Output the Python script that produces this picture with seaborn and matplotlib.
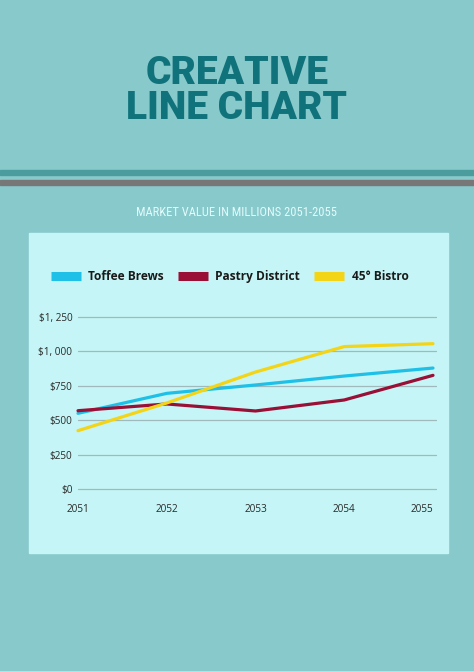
import pandas as pd
import numpy as np
import matplotlib.pyplot as plt
import seaborn as sns
from matplotlib.patches import Rectangle
from matplotlib.lines import Line2D

# Chart data
years = [2051, 2052, 2053, 2054, 2055]
toffee_brews = [550, 695, 756, 821, 879]
pastry_district = [569, 618, 567, 647, 826]
bistro_45 = [424, 625, 850, 1035, 1056]
series_names = ['Toffee Brews', 'Pastry District', '45° Bistro']
y_ticks = [0, 250, 500, 750, 1000, 1250]
y_tick_labels = ['$0', '$250', '$500', '$750', '$1, 000', '$1, 250']

data = pd.DataFrame({
    'Year': years * 3,
    'Value': toffee_brews + pastry_district + bistro_45,
    'Company': [series_names[0]] * 5 + [series_names[1]] * 5 + [series_names[2]] * 5,
})

colors = ['#1ec0e8', '#9a0f36', '#f4d417']
bg = '#88c9cc'
panel = '#c5f5f6'

sns.set_style('white')
plt.rcParams['font.family'] = ['Open Sans', 'DejaVu Sans']

W, H = 474, 671
fig = plt.figure(figsize=(W / 100, H / 100), dpi=100, facecolor=bg)

def fx(px):
    return px / W

def fy(py):
    return 1 - py / H

# decorative stripes and chart panel (behind the axes)
fig.patches.append(Rectangle((0, fy(175)), 1, 5 / H, transform=fig.transFigure,
                             color='#4b9c9d', zorder=-2))
fig.patches.append(Rectangle((0, fy(185)), 1, 5 / H, transform=fig.transFigure,
                             color='#777777', zorder=-2))
fig.patches.append(Rectangle((fx(29), fy(553)), fx(448) - fx(29), (553 - 233) / H,
                             transform=fig.transFigure, color=panel, zorder=-2))

# titles
title_font = ['Roboto Black', 'Roboto', 'DejaVu Sans']
fig.text(0.5, fy(91), 'CREATIVE\nLINE CHART', ha='center', va='center', fontsize=28,
         family=title_font, fontweight='black', color='#10727a',
         multialignment='center', linespacing=0.9)
fig.text(0.5, fy(213), 'MARKET VALUE IN MILLIONS 2051-2055', ha='center', va='center',
         fontsize=9, family=['Roboto Condensed', 'Liberation Sans Narrow', 'Roboto', 'DejaVu Sans'],
         color='#e2fbfb')

# plot area
ax = fig.add_axes([fx(78), fy(489), fx(433) - fx(78), (489 - 317) / H])
ax.set_facecolor('none')
sns.lineplot(data=data, x='Year', y='Value', hue='Company', palette=colors,
             linewidth=2.3, ax=ax, legend=False, clip_on=False, zorder=3)
ax.set_xlim(2051, 2055)
ax.set_ylim(0, 1250)
for s in ax.spines.values():
    s.set_visible(False)
ax.set_yticks(y_ticks)
ax.set_yticklabels(y_tick_labels)
ax.set_xticks(years)
ax.set_xticklabels([str(y) for y in years])
ax.get_xticklabels()[-1].set_ha('right')
ax.tick_params(axis='both', length=0, labelsize=7.2, colors='#2a2a2a')
ax.tick_params(axis='y', pad=4)
ax.tick_params(axis='x', pad=11)
for yv in y_ticks:
    ax.plot([2051, 2055.03], [yv, yv], color='#9fb9bc', lw=0.9, clip_on=False, zorder=1)
ax.set_xlabel('')
ax.set_ylabel('')

# legend with block handles
handles = [Line2D([0], [0], color=c, lw=6.5, solid_capstyle='butt') for c in colors]
leg = fig.legend(handles, series_names, loc='center', bbox_to_anchor=(0.485, fy(277)), ncol=3,
                 frameon=False, handlelength=2.5, handletextpad=0.6, columnspacing=1.2,
                 prop={'weight': 'bold', 'size': 8.6})
for t in leg.get_texts():
    t.set_color('#1a1a1a')

plt.savefig('out.png', dpi=100, facecolor=bg)
